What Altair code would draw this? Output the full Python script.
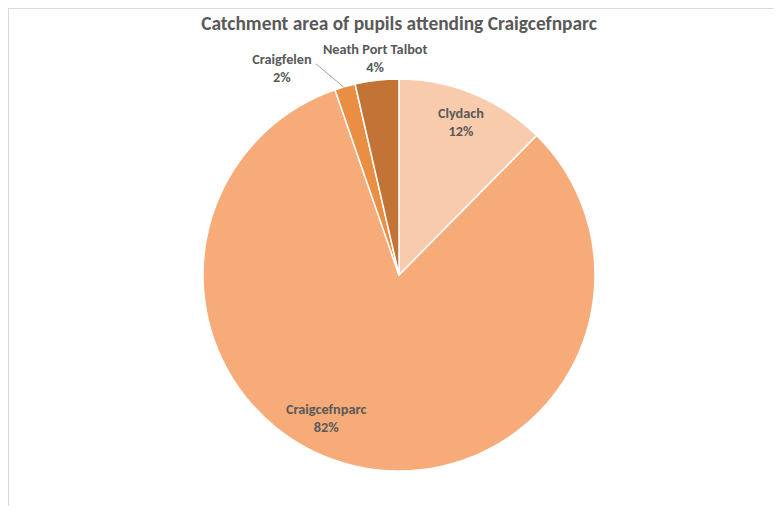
import math
import altair as alt
import pandas as pd

# ---- data ----
categories = ["Clydach", "Craigcefnparc", "Craigfelen", "Neath Port Talbot"]
shares = [12.4, 82.3, 1.7, 3.6]           # percent of pupils
pct_labels = ["12%", "82%", "2%", "4%"]
colors = ["#F9CBAD", "#F7AB79", "#EA8E44", "#C47336"]
title_text = "Catchment area of pupils attending Craigcefnparc"

# ---- layout ----
W, H = 765, 498
CX, CY, R = 391, 267, 196
FONT = "Carlito, Lato, Noto Sans, sans-serif"
TEXT_COLOR = "#595959"
# label placement (degrees clockwise from 12 o'clock, radius in px)
label_pos = {
    "Clydach": (22.2, 164),
    "Craigcefnparc": (206.9, 161),
    "Craigfelen": (330.4, 237),
    "Neath Port Talbot": (353.7, 217),
}

df = pd.DataFrame({
    "cat": categories,
    "v": shares,
    "pct": pct_labels,
    "idx": list(range(len(categories))),
})
df["lab"] = [[c, p] for c, p in zip(categories, pct_labels)]
df["la"] = [math.radians(label_pos[c][0]) for c in categories]
df["lr"] = [label_pos[c][1] for c in categories]

pie = alt.Chart(df).mark_arc(radius=R, stroke="white", strokeWidth=1.5).encode(
    theta=alt.Theta("v:Q", stack=True),
    order=alt.Order("idx:Q"),
    color=alt.Color("cat:N", scale=alt.Scale(domain=categories, range=colors), legend=None),
    x=alt.value(CX),
    y=alt.value(CY),
)

labels = alt.Chart(df).mark_text(
    font=FONT, fontSize=14.3, fontWeight="bold", color=TEXT_COLOR,
    align="center", baseline="middle", lineHeight=18, dy=-9,
).encode(
    text="lab",
    theta=alt.Theta("la:Q", scale=None, stack=False),
    radius=alt.Radius("lr:Q", scale=None),
    x=alt.value(CX),
    y=alt.value(CY),
)

# leader line for Craigfelen, from the label towards the slice middle
tot = sum(shares)
cum = sum(shares[:2])
mid = (cum + shares[2] / 2) / tot * 2 * math.pi
start_a = math.radians(338.5)
lead = pd.DataFrame({
    "x1": [CX + 227 * math.sin(start_a)], "y1": [CY - 227 * math.cos(start_a)],
    "x2": [CX + (R - 2) * math.sin(mid)], "y2": [CY - (R - 2) * math.cos(mid)],
})
leader = alt.Chart(lead).mark_rule(color="#A6A6A6", strokeWidth=1).encode(
    x=alt.X("x1:Q", scale=None), y=alt.Y("y1:Q", scale=None),
    x2="x2:Q", y2="y2:Q",
)

title = alt.Chart(pd.DataFrame({"t": [title_text]})).mark_text(
    font=FONT, fontSize=19.4, fontWeight="bold", color=TEXT_COLOR,
    align="center", baseline="alphabetic",
).encode(text="t:N", x=alt.value(CX), y=alt.value(22))

border_top = alt.Chart(pd.DataFrame({"a": [0]})).mark_rule(color="#D9D9D9", strokeWidth=1).encode(
    x=alt.value(0), x2=alt.value(W), y=alt.value(0.5))
border_left = alt.Chart(pd.DataFrame({"a": [0]})).mark_rule(color="#D9D9D9", strokeWidth=1).encode(
    x=alt.value(0.5), y=alt.value(0), y2=alt.value(H))

chart = alt.layer(border_top, border_left, pie, leader, labels, title).properties(
    width=W, height=H, padding=0, autosize=alt.AutoSizeParams(type="none"),
    background="white",
).configure_view(stroke=None)

chart.save("out.html", embed_options={"renderer": "svg", "actions": False})
